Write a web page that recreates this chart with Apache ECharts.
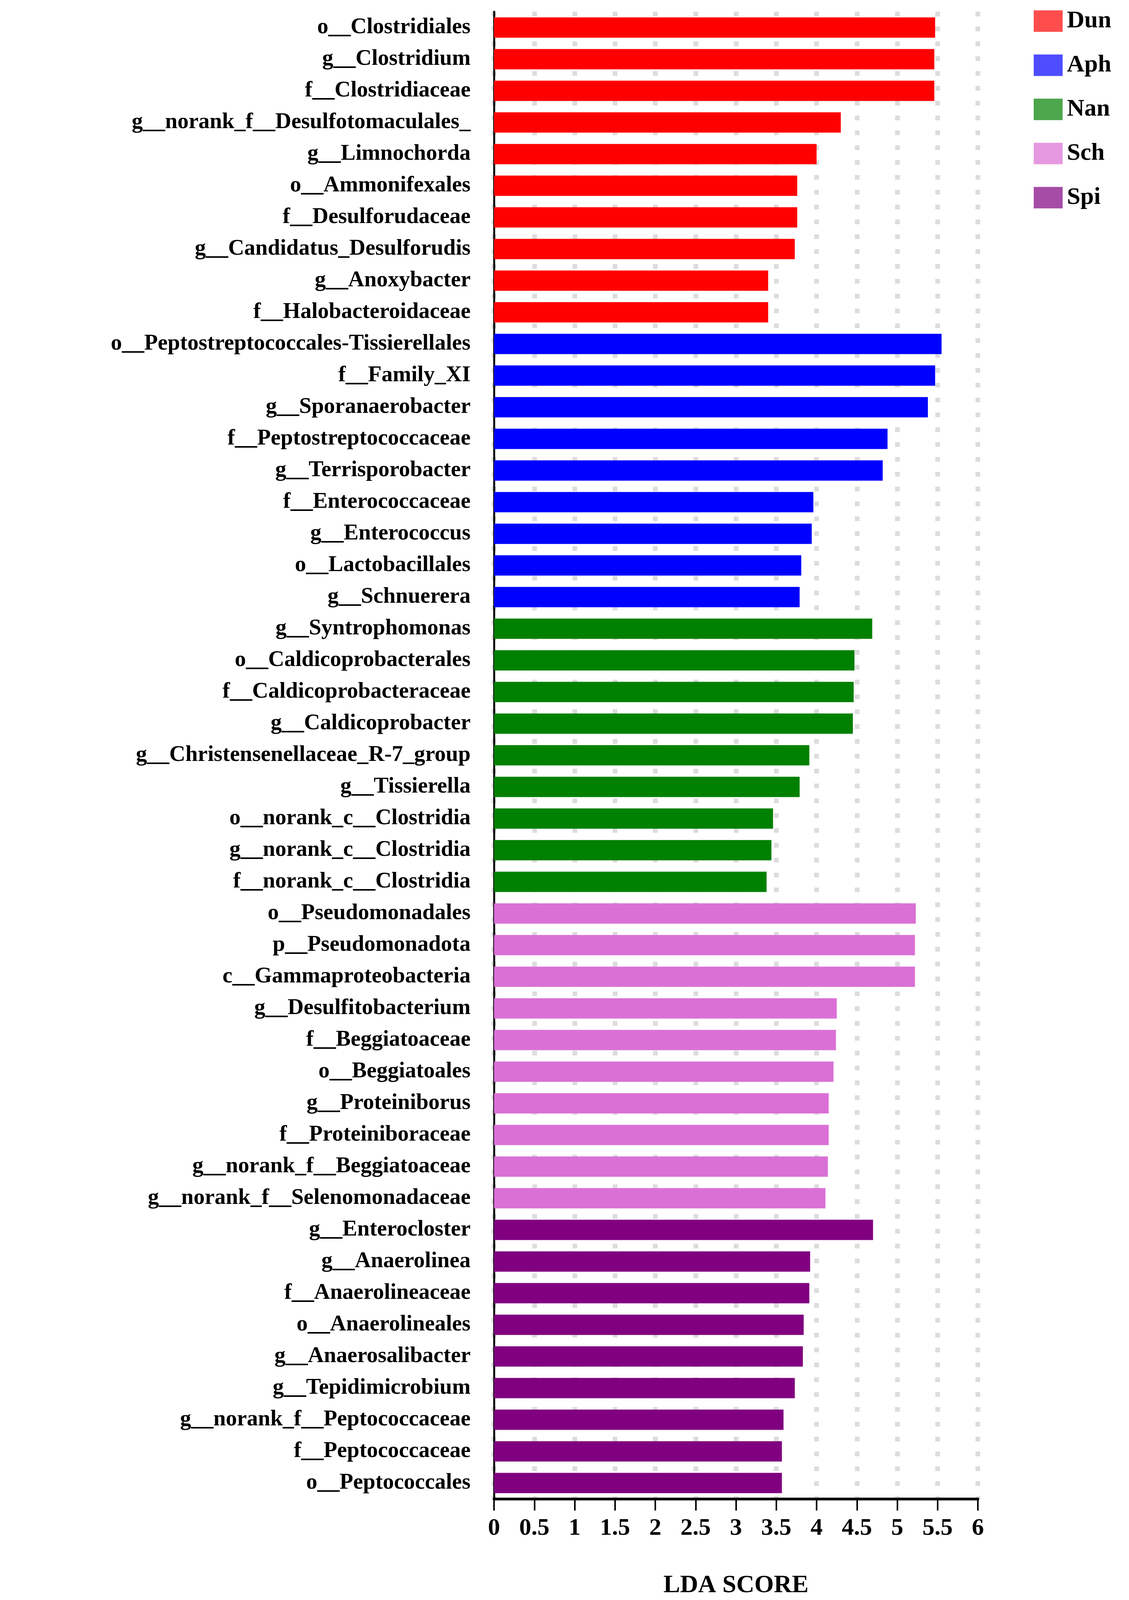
<!DOCTYPE html>
<html>
<head>
<meta charset="utf-8">
<script src="https://cdn.jsdelivr.net/npm/echarts@6/dist/echarts.min.js"></script>
<style>html,body{margin:0;padding:0;background:#fff;overflow:hidden}#chart{width:100vw;height:100vh}</style>
</head>
<body>
<div id="chart"></div>
<script>
// 分组
var groups = ['Dun', 'Aph', 'Nan', 'Sch', 'Spi'];
var barColors = ['#ff0000', '#0000ff', '#008000', '#da70d6', '#800080'];
var legendColors = ['#ff4d4d', '#4d4dff', '#4ca64c', '#e699e0', '#a64ca6'];

// 各组的类群与LDA值
var dunNames = ['o__Clostridiales', 'g__Clostridium', 'f__Clostridiaceae', 'g__norank_f__Desulfotomaculales_', 'g__Limnochorda', 'o__Ammonifexales', 'f__Desulforudaceae', 'g__Candidatus_Desulforudis', 'g__Anoxybacter', 'f__Halobacteroidaceae'];
var dunValues = [5.47, 5.46, 5.46, 4.30, 4.00, 3.76, 3.76, 3.73, 3.40, 3.40];
var aphNames = ['o__Peptostreptococcales-Tissierellales', 'f__Family_XI', 'g__Sporanaerobacter', 'f__Peptostreptococcaceae', 'g__Terrisporobacter', 'f__Enterococcaceae', 'g__Enterococcus', 'o__Lactobacillales', 'g__Schnuerera'];
var aphValues = [5.55, 5.47, 5.38, 4.88, 4.82, 3.96, 3.94, 3.81, 3.79];
var nanNames = ['g__Syntrophomonas', 'o__Caldicoprobacterales', 'f__Caldicoprobacteraceae', 'g__Caldicoprobacter', 'g__Christensenellaceae_R-7_group', 'g__Tissierella', 'o__norank_c__Clostridia', 'g__norank_c__Clostridia', 'f__norank_c__Clostridia'];
var nanValues = [4.69, 4.47, 4.46, 4.45, 3.91, 3.79, 3.46, 3.44, 3.38];
var schNames = ['o__Pseudomonadales', 'p__Pseudomonadota', 'c__Gammaproteobacteria', 'g__Desulfitobacterium', 'f__Beggiatoaceae', 'o__Beggiatoales', 'g__Proteiniborus', 'f__Proteiniboraceae', 'g__norank_f__Beggiatoaceae', 'g__norank_f__Selenomonadaceae'];
var schValues = [5.23, 5.22, 5.22, 4.25, 4.24, 4.21, 4.15, 4.15, 4.14, 4.11];
var spiNames = ['g__Enterocloster', 'g__Anaerolinea', 'f__Anaerolineaceae', 'o__Anaerolineales', 'g__Anaerosalibacter', 'g__Tepidimicrobium', 'g__norank_f__Peptococcaceae', 'f__Peptococcaceae', 'o__Peptococcales'];
var spiValues = [4.70, 3.92, 3.91, 3.84, 3.83, 3.73, 3.59, 3.57, 3.57];

var xTicks = [0, 0.5, 1, 1.5, 2, 2.5, 3, 3.5, 4, 4.5, 5, 5.5, 6];

var allNames = [dunNames, aphNames, nanNames, schNames, spiNames];
var allValues = [dunValues, aphValues, nanValues, schValues, spiValues];

var categories = [];
allNames.forEach(function (n) { categories = categories.concat(n); });

// 每组一个系列，其他位置为空
var series = groups.map(function (g, gi) {
    var data = categories.map(function () { return '-'; });
    var offset = 0;
    for (var k = 0; k < gi; k++) offset += allNames[k].length;
    allValues[gi].forEach(function (v, i) { data[offset + i] = v; });
    return {
        name: g,
        type: 'bar',
        stack: 'lda',
        barWidth: '64%',
        itemStyle: { color: barColors[gi] },
        data: data
    };
});

var font = 'Liberation Serif';
var chart = echarts.init(document.getElementById('chart'));
chart.setOption({
    backgroundColor: '#fff',
    animation: false,
    legend: {
        orient: 'vertical',
        left: 2642,
        top: 18,
        itemWidth: 74,
        itemHeight: 55,
        itemGap: 51,
        icon: 'rect',
        textStyle: { fontFamily: font, fontWeight: 'bold', fontSize: 62, color: '#000', padding: [0, 0, 0, 6] },
        data: groups.map(function (g, i) { return { name: g, itemStyle: { color: legendColors[i] } }; })
    },
    grid: { left: 1265, right: 387, top: 30, bottom: 258 },
    xAxis: {
        type: 'value',
        min: 0,
        max: 6,
        interval: 0.5,
        name: 'LDA SCORE',
        nameLocation: 'middle',
        nameGap: 190,
        nameTextStyle: { fontFamily: font, fontWeight: 'bold', fontSize: 64, color: '#000' },
        axisLine: { show: true, lineStyle: { color: '#000', width: 7 } },
        axisTick: { show: true, length: 30, lineStyle: { color: '#000', width: 4 } },
        axisLabel: {
            margin: 45, fontFamily: font, fontWeight: 'bold', fontSize: 62, color: '#000',
            formatter: function (v) { return xTicks.indexOf(v) >= 0 ? String(v) : ''; }
        },
        splitLine: { show: true, lineStyle: { color: '#dcdcdc', width: 12, type: [12, 26] } }
    },
    yAxis: {
        type: 'category',
        inverse: true,
        data: categories,
        axisLine: { show: true, lineStyle: { color: '#000', width: 5 } },
        axisTick: { show: false },
        axisLabel: { margin: 60, fontFamily: font, fontWeight: 'bold', fontSize: 57, color: '#000' }
    },
    series: series
});
</script>
</body>
</html>
